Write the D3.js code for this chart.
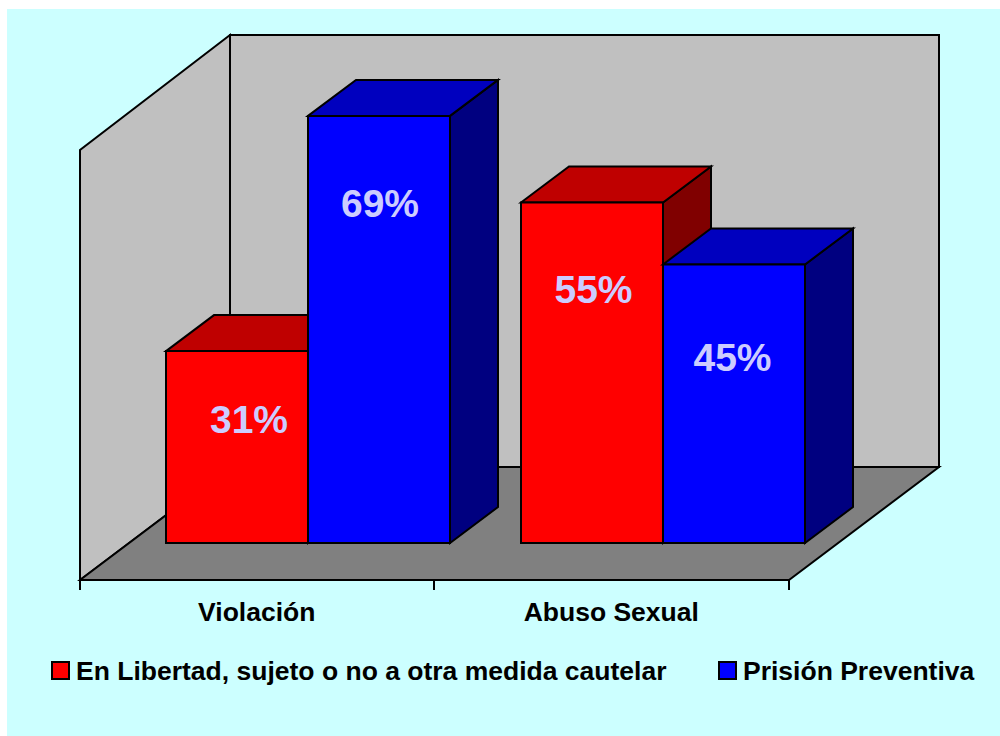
<!DOCTYPE html>
<html><head><meta charset="utf-8">
<style>html,body{margin:0;padding:0;background:#fff}svg{display:block}text{font-family:"Liberation Sans",Arial,sans-serif;font-weight:bold}</style>
<script src="https://cdnjs.cloudflare.com/ajax/libs/d3/7.8.5/d3.min.js"></script>
</head><body><svg id="c" width="1000" height="736"></svg>
<script>
const categories = ["Violación", "Abuso Sexual"];
const seriesNames = ["En Libertad, sujeto o no a otra medida cautelar", "Prisión Preventiva"];
const libertad = [31, 55];
const prision = [69, 45];
const frontColors = ["#ff0000", "#0000ff"];
const topColors = ["#bf0000", "#0000bf"];
const sideColors = ["#800000", "#000080"];

const svg = d3.select("#c");
svg.append("rect").attr("x",7).attr("y",9).attr("width",993).attr("height",727).attr("fill","#ccffff");

const xAxisScale = d3.scaleBand().domain(categories).range([80,789]);
const y = d3.scaleLinear().domain([0,100]).range([543,-76]);
const series = d3.scaleBand().domain(seriesNames).range([86,370]);
const barDx = 48, barDy = -36;
const line = d3.line();
const poly = (pts, fill) => svg.append("path").attr("d", line(pts)+"Z").attr("fill",fill)
  .attr("stroke","#000").attr("stroke-width",2).attr("stroke-linejoin","miter");

// walls and floor
const fl=[80,580], bl=[230,467], br=[939,467], fr=[789,580], tl=[80,150], tb=[230,35], tr=[939,35];
poly([fl,tl,tb,bl],"#c0c0c0");
poly([bl,tb,tr,br],"#c0c0c0");
poly([fl,bl,br,fr],"#808080");

// ticks
const tickX = [xAxisScale.range()[0], ...categories.map(c=>Math.floor(xAxisScale(c)+xAxisScale.bandwidth()))];
svg.selectAll(".tick").data(tickX).join("line").attr("x1",d=>d).attr("x2",d=>d)
  .attr("y1",580).attr("y2",590).attr("stroke","#000").attr("stroke-width",2);

// bars
const values = [libertad, prision];
categories.forEach((c,i)=>{
  seriesNames.forEach((s,j)=>{
    const v = values[j][i];
    const x0 = Math.round(xAxisScale(c)+series(s)), x1 = x0+series.bandwidth();
    const yT = y(v), yB = y(0);
    poly([[x1,yB],[x1,yT],[x1+barDx,yT+barDy],[x1+barDx,yB+barDy]],sideColors[j]);
    poly([[x0,yT],[x0+barDx,yT+barDy],[x1+barDx,yT+barDy],[x1,yT]],topColors[j]);
    poly([[x0,yB],[x0,yT],[x1,yT],[x1,yB]],frontColors[j]);
  });
});
// value labels (after all bars); hand-placed nudges from each bar's top centre, [series][category]
const labelDx = [[12,2],[1,-1]];
const labelDy = [[82,100],[101,107]];
categories.forEach((c,i)=>{
  seriesNames.forEach((s,j)=>{
    const v = values[j][i];
    const cx = xAxisScale(c)+series(s)+series.bandwidth()/2;
    svg.append("text").attr("x",cx+labelDx[j][i]).attr("y",y(v)+labelDy[j][i]).attr("text-anchor","middle")
      .attr("font-size",39).attr("fill","#ccccff").text(v+"%");
  });
});

// category labels
categories.forEach(c=>{
  svg.append("text").attr("x",xAxisScale(c)+xAxisScale.bandwidth()/2-0.5).attr("y",621)
    .attr("text-anchor","middle").attr("font-size",26.5).attr("fill","#000").text(c);
});

// legend
const legendX = [52,719], legendText=[76,743];
seriesNames.forEach((s,j)=>{
  svg.append("rect").attr("x",legendX[j]).attr("y",662).attr("width",17).attr("height",17)
    .attr("fill",frontColors[j]).attr("stroke","#000").attr("stroke-width",2);
  svg.append("text").attr("x",legendText[j]).attr("y",680).attr("font-size",26.5).attr("fill","#000").text(s);
});
</script></body></html>
